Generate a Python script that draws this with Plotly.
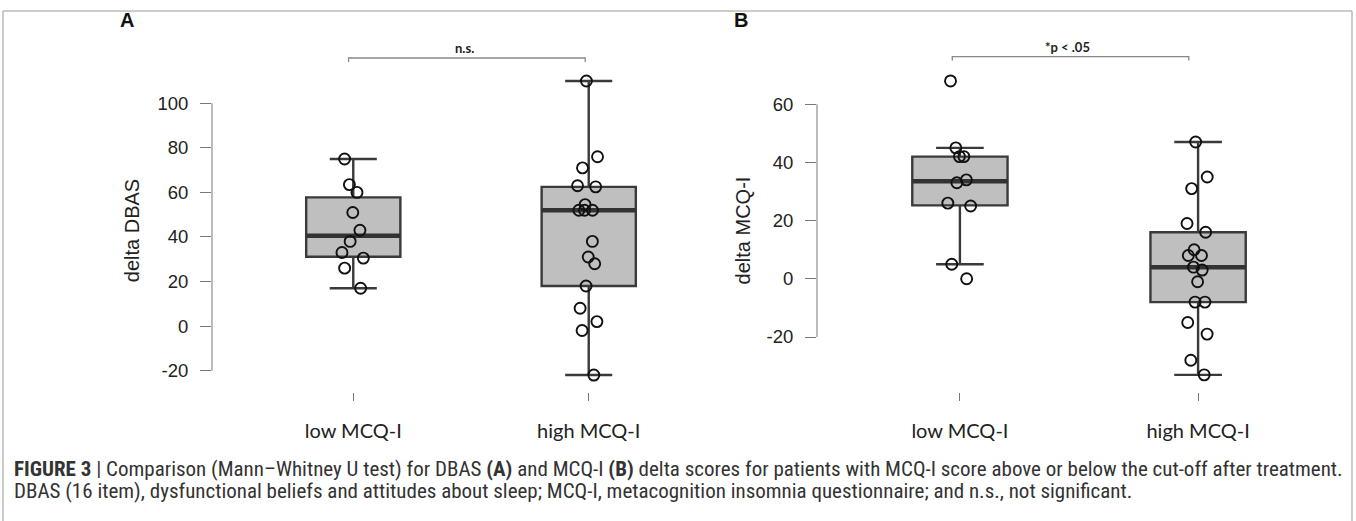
import numpy as np
import plotly.graph_objects as go

# ---------------- data ----------------
groups = ["low MCQ-I", "high MCQ-I"]
group_pos = [1, 2]

dbas_low = [75, 63.5, 60, 51, 43, 38, 33, 30.5, 26, 17]
dbas_high = [110, 76, 71, 63, 62.5, 54.5, 52, 52, 52, 38, 31, 28, 18, 8, 2, -2, -22]
mcq_low = [68, 45, 42, 42, 34, 33, 26, 25, 5, 0]
mcq_high = [47, 35, 31, 19, 16, 10, 8, 8, 4, 3, -1, -8, -8, -15, -19, -28, -33]

dbas_ticks = [-20, 0, 20, 40, 60, 80, 100]
dbas_ticktext = ["-20", "0", "20", "40", "60", "80", "100"]
mcq_ticks = [-20, 0, 20, 40, 60]
mcq_ticktext = ["-20", "0", "20", "40", "60"]

panel_titles = ["delta DBAS", "delta MCQ-I"]
sig_labels = ["n.s.", "*p < .05"]
caption_1 = ("<b>FIGURE 3</b> | Comparison (Mann–Whitney U test) for DBAS <b>(A)</b> and MCQ-I <b>(B)</b> "
             "delta scores for patients with MCQ-I score above or below the cut-off after treatment.")
caption_2 = ("DBAS (16 item), dysfunctional beliefs and attitudes about sleep; MCQ-I, metacognition "
             "insomnia questionnaire; and n.s., not significant.")

# ---------------- helpers ----------------
W, H = 1356, 521
def px(x):
    return x / W
def py(y):
    return 1 - y / H

def stats(v):
    a = np.sort(np.asarray(v, float))
    q1, med, q3 = np.percentile(a, [25, 50, 75])
    iqr = q3 - q1
    lo = a[a >= q1 - 1.5 * iqr].min()
    hi = a[a <= q3 + 1.5 * iqr].max()
    return q1, med, q3, lo, hi

BOX_W = 0.4
fig = go.Figure()

panels = [
    ("x", "y", [dbas_low, dbas_high]),
    ("x2", "y2", [mcq_low, mcq_high]),
]

for xa, ya, series in panels:
    for pos, vals in zip(group_pos, series):
        q1, med, q3, lo, hi = stats(vals)
        fig.add_trace(go.Box(
            x=[pos], q1=[q1], median=[med], q3=[q3], lowerfence=[lo], upperfence=[hi],
            xaxis=xa, yaxis=ya, width=BOX_W, whiskerwidth=0.5, boxpoints=False,
            fillcolor="#bfbfbf", line=dict(color="#3a3a3a", width=2.4),
            hoverinfo="skip", showlegend=False))
        # thick median bar
        fig.add_trace(go.Box(
            x=[pos], q1=[med], median=[med], q3=[med], lowerfence=[med], upperfence=[med],
            xaxis=xa, yaxis=ya, width=BOX_W, whiskerwidth=0, boxpoints=False,
            fillcolor="rgba(0,0,0,0)", line=dict(color="#333333", width=4.5),
            hoverinfo="skip", showlegend=False))
        # jittered points
        fig.add_trace(go.Box(
            x=[pos] * len(vals), y=vals, xaxis=xa, yaxis=ya, width=BOX_W,
            boxpoints="all", jitter=0.3, pointpos=0, whiskerwidth=0,
            fillcolor="rgba(0,0,0,0)", line=dict(color="rgba(0,0,0,0)", width=0),
            marker=dict(symbol="circle-open", size=11, color="#111111",
                        line=dict(width=1.9, color="#111111")),
            hoverinfo="skip", showlegend=False))

tickfont = dict(family="Liberation Sans, Arial, sans-serif", size=18.5, color="#222222")
xfont = dict(family="Lato, Open Sans, sans-serif", size=20, color="#222222")
titlefont = dict(family="Liberation Sans, Arial, sans-serif", size=20, color="#222222")

ydom = [py(392), py(69)]
common_x = dict(range=[0.4, 2.6], type="linear", tickvals=group_pos, ticktext=groups,
                ticks="outside", ticklen=8, tickwidth=1, tickcolor="#777777",
                showline=False, showgrid=False, zeroline=False, tickfont=xfont,
                ticklabelstandoff=13, automargin=False)
common_y = dict(ticks="outside", ticklen=11, tickwidth=1, tickcolor="#777777",
                showline=False, showgrid=False, zeroline=False, tickfont=tickfont,
                ticklabelstandoff=8, domain=ydom, automargin=False)

fig.update_layout(
    width=W, height=H, margin=dict(l=0, r=0, t=0, b=0, autoexpand=False),
    paper_bgcolor="white", plot_bgcolor="white", boxmode="overlay", showlegend=False,
    xaxis=dict(domain=[px(212), px(730)], anchor="y", **common_x),
    xaxis2=dict(domain=[px(817), px(1341)], anchor="y2", **common_x),
    yaxis=dict(range=[-29.6, 115.4], tickvals=dbas_ticks, ticktext=dbas_ticktext, anchor="x",
               title=dict(text=panel_titles[0], font=titlefont, standoff=12), **common_y),
    yaxis2=dict(range=[-38.9, 72.1], tickvals=mcq_ticks, ticktext=mcq_ticktext, anchor="x2",
                title=dict(text=panel_titles[1], font=titlefont, standoff=10), **common_y),
)

shapes = []
# R-style y axis lines spanning first to last tick
for xr, yr, tv in [("x domain", "y", dbas_ticks), ("x2 domain", "y2", mcq_ticks)]:
    shapes.append(dict(type="line", xref=xr, yref=yr, x0=0, x1=0, y0=min(tv), y1=max(tv),
                       line=dict(color="#777777", width=1)))
# significance brackets
shapes.append(dict(type="path", xref="x", yref="paper",
                   path=f"M 0.98,{py(62)} L 0.98,{py(58)} L 1.985,{py(58)} L 1.985,{py(62)}",
                   line=dict(color="#888888", width=1.3)))
shapes.append(dict(type="path", xref="x2", yref="paper",
                   path=f"M 0.968,{py(60.5)} L 0.968,{py(56.7)} L 1.961,{py(56.7)} L 1.961,{py(60.5)}",
                   line=dict(color="#888888", width=1.3)))
# frame
shapes.append(dict(type="path", xref="paper", yref="paper",
                   path=f"M {px(3)},0 L {px(3)},{py(11)} L {px(1352)},{py(11)} L {px(1352)},0",
                   line=dict(color="#999999", width=1)))
fig.update_layout(shapes=shapes)

sigfont = dict(family="Lato, Open Sans, sans-serif", size=13, color="#222222")
panelfont = dict(family="Liberation Sans, Arial, sans-serif", size=20, color="#111111")
capfont = dict(family="Liberation Sans Narrow, Arial Narrow, Roboto Condensed, Liberation Sans, sans-serif",
               size=21, color="#333333")
ann = [
    dict(text=f"<b>{sig_labels[0]}</b>", x=px(464), y=py(48), xref="paper", yref="paper",
         showarrow=False, font=sigfont, xanchor="center", yanchor="middle"),
    dict(text=f"<b>{sig_labels[1]}</b>", x=px(1067), y=py(47), xref="paper", yref="paper",
         showarrow=False, font=sigfont, xanchor="center", yanchor="middle"),
    dict(text="<b>A</b>", x=px(127), y=py(20), xref="paper", yref="paper",
         showarrow=False, font=panelfont, xanchor="center", yanchor="middle"),
    dict(text="<b>B</b>", x=px(741), y=py(20), xref="paper", yref="paper",
         showarrow=False, font=panelfont, xanchor="center", yanchor="middle"),
    dict(text=caption_1, x=px(12), y=py(469), xref="paper", yref="paper",
         showarrow=False, font=capfont, xanchor="left", yanchor="middle"),
    dict(text=caption_2, x=px(12), y=py(491), xref="paper", yref="paper",
         showarrow=False, font=capfont, xanchor="left", yanchor="middle"),
]
fig.update_layout(annotations=ann)

fig.write_html("out.html", config={"displayModeBar": False},
               post_script="document.body.style.margin='0';document.body.style.overflow='hidden';")
